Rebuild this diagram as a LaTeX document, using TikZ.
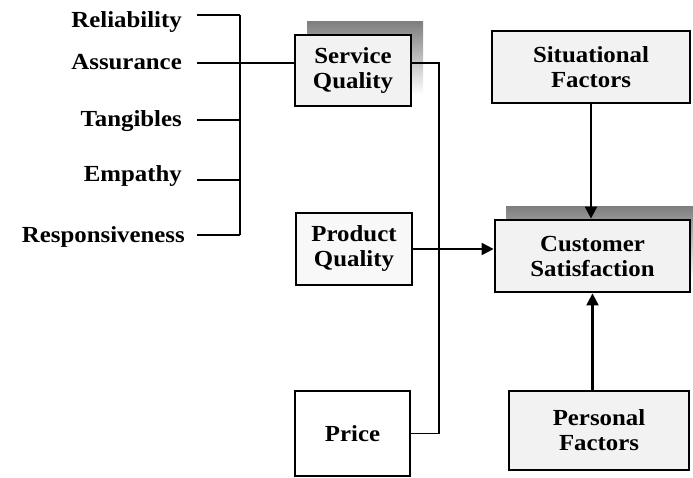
\documentclass[tikz,border=0pt]{standalone}
\usepackage{fontspec}
\setmainfont[FakeStretch=1.08]{Liberation Serif}
\usetikzlibrary{arrows.meta}

\tikzset{
  factor/.style={draw, line width=2.8pt, fill=boxgray, align=center, inner sep=0pt, font=\bfseries},
  dim/.style={anchor=east, inner sep=0pt, text height=1.5ex, text depth=.25ex, font=\bfseries},
  link/.style={line width=1.4pt},
  effect/.style={line width=2.2pt, -{Triangle[length=12pt,width=12pt]}}
}
\definecolor{boxgray}{HTML}{F2F2F2}
\definecolor{shade}{HTML}{808080}

\begin{document}
\fontsize{23}{25}\selectfont
\begin{tikzpicture}[x=1pt, y=1pt]
            \useasboundingbox (0,0) rectangle (693,477);
            % shadows
            \fill[shade] (307,382) rectangle (423,455);
            \fill[shade] (506,197) rectangle (693,270);

            \node[factor, minimum width=116pt, minimum height=71pt] (sq) at (353,406.5) {Service\\Quality};
            \node[factor, minimum width=116pt, minimum height=72pt, fill=white!50!boxgray] (pq) at (354,228) {Product\\Quality};
            \node[factor, minimum width=115pt, minimum height=85pt, fill=white] (price) at (352.5,43.5) {Price};
            \node[factor, minimum width=198pt, minimum height=72pt] (sf) at (591,410) {Situational\\Factors};
            \node[factor, minimum width=195pt, minimum height=72pt] (cs) at (592.5,221) {Customer\\Satisfaction};
            \node[factor, minimum width=180pt, minimum height=79pt] (pf) at (599,46.5) {Personal\\Factors};

            \node[dim] (rel) at (182,456) {Reliability};
            \node[dim] (ass) at (182,414) {Assurance};
            \node[dim] (tan) at (182,357) {Tangibles};
            \node[dim] (emp) at (182,302) {Empathy};
            \node[dim] (res) at (185,241) {Responsiveness};

            \coordinate (r1) at (197,462);
            \coordinate (r2) at (197,414);
            \coordinate (r3) at (197,357);
            \coordinate (r4) at (197,297);
            \coordinate (r5) at (197,242);
            \coordinate (brk) at (240,0);

            \foreach \c in {r1,r3,r4,r5}
                \draw[link] (\c) -- (\c -| brk);
            \draw[link] (r1 -| brk) -- (r5 -| brk);
            \draw[link] (r2) -- (r2 -| sq.west);

            \draw[link] (r2 -| sq.east) -- ++(26.5,0) |- (price.east);

            \draw[effect] (pq.east) -- (pq.east -| cs.west);
            \draw[effect] (sf.south) -- (sf.south |- cs.north);
            \draw[effect] (cs.south |- pf.north) -- (cs.south);
        \end{tikzpicture}
\end{document}
